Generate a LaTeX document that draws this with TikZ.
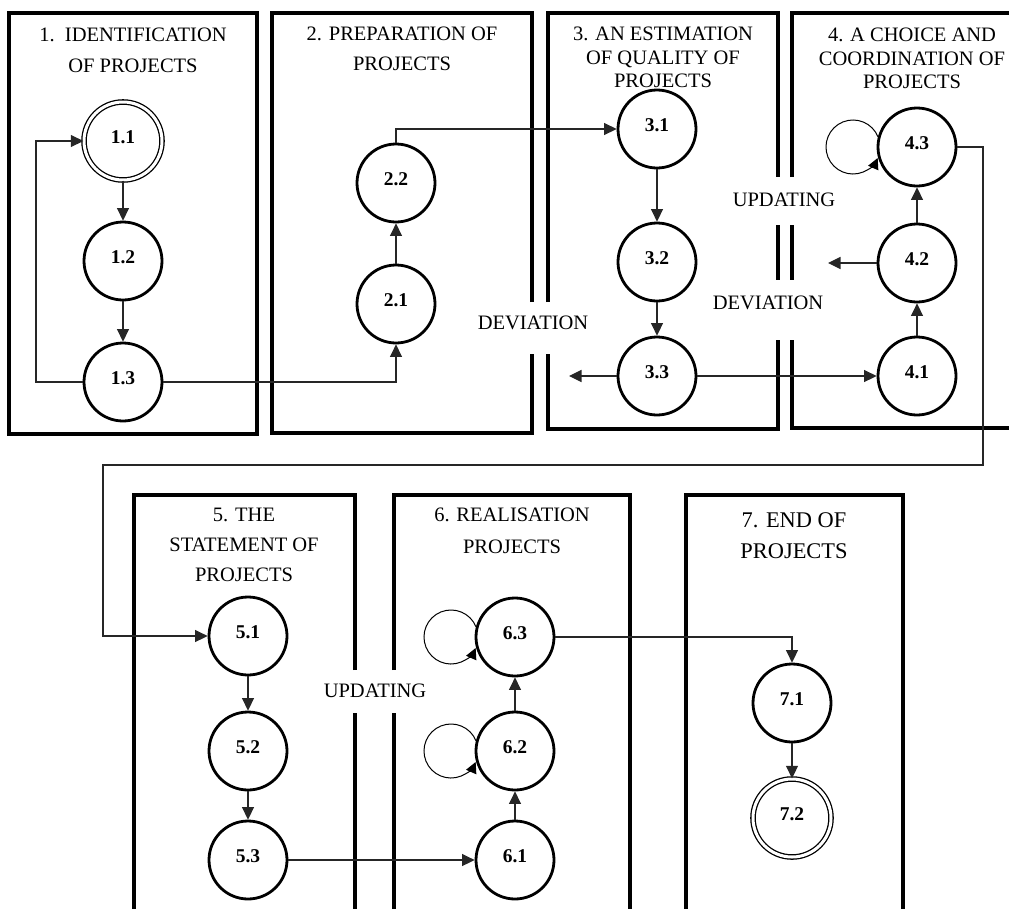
\documentclass[tikz,border=0pt]{standalone}
\usepackage{fontspec}
\setmainfont{Liberation Serif}
\usetikzlibrary{arrows.meta,calc}
\begin{document}
\begin{tikzpicture}[x=1pt,y=-1pt,
  frame/.style={line width=3.8pt, line join=miter},
  state/.style={circle, draw, line width=2.8pt, minimum size=78pt, inner sep=0pt,
    font=\fontsize{19.5}{19.5}\selectfont\bfseries, text height=13pt, text depth=9pt},
  final/.style={state, line width=1.3pt, double, double distance=3pt},
  conn/.style={line width=1.2pt, draw=black!85},
  arr/.style={conn, -{Triangle[length=12.5pt,width=12pt]}},
  ttl/.style={align=center, inner sep=0pt, anchor=north},
  lbl/.style={font=\fontsize{20.5}{24}\selectfont, inner sep=0pt},
  selfloop/.style={line width=1pt, -{Triangle[length=11pt,width=11pt]}}
]
\useasboundingbox (0,0) rectangle (1009,908);
\clip (0,0) rectangle (1009,908);

% frames
\draw[frame] (9,13) rectangle (257,434);
\draw[frame] (532,302) -- (532,13) -- (272,13) -- (272,433) -- (532,433) -- (532,354);
\draw[frame] (548,302) -- (548,13) -- (778,13) -- (778,177);
\draw[frame] (778,225) -- (778,280);
\draw[frame] (778,340) -- (778,429) -- (548,429) -- (548,354);
\draw[frame] (792,177) -- (792,13) -- (1020,13);
\draw[frame] (792,225) -- (792,280);
\draw[frame] (792,340) -- (792,428) -- (1020,428);
\draw[frame] (355,670) -- (355,495) -- (134,495) -- (134,920);
\draw[frame] (355,713) -- (355,920);
\draw[frame] (394,670) -- (394,495) -- (630,495) -- (630,920);
\draw[frame] (394,713) -- (394,920);
\draw[frame] (686,920) -- (686,495) -- (903,495) -- (903,920);

% titles
\node[ttl, font=\fontsize{20.5}{30.5}\selectfont] (t1) at (133,28) {1.\ \ IDENTIFICATION\\OF PROJECTS};
\node[ttl, font=\fontsize{20.5}{30}\selectfont] (t2) at (402,27) {2. PREPARATION OF\\PROJECTS};
\node[ttl, font=\fontsize{20.5}{23.5}\selectfont] (t3) at (663,27) {3. AN ESTIMATION\\OF QUALITY OF\\PROJECTS};
\node[ttl, font=\fontsize{20.5}{23.5}\selectfont] (t4) at (912,28) {4. A CHOICE AND\\COORDINATION OF\\PROJECTS};
\node[ttl, font=\fontsize{20.5}{30}\selectfont] (t5) at (244,508) {5. THE\\STATEMENT OF\\PROJECTS};
\node[ttl, font=\fontsize{20.5}{32}\selectfont] (t6) at (512,508) {6. REALISATION\\PROJECTS};
\node[ttl, font=\fontsize{22.4}{31.5}\selectfont] (t7) at (794,512) {7. END OF\\PROJECTS};

% side labels
\node[lbl] (dev1) at (533,323) {DEVIATION};
\node[lbl] (dev2) at (768,303) {DEVIATION};
\node[lbl] (upd1) at (784,200) {UPDATING};
\node[lbl] (upd2) at (375,691) {UPDATING};

% states
\node[final] (n11) at (123,141) {1.1};
\node[state] (n12) at (123,261) {1.2};
\node[state] (n13) at (123,382) {1.3};
\node[state] (n21) at (396,304) {2.1};
\node[state] (n22) at (396,183) {2.2};
\node[state] (n31) at (657,129) {3.1};
\node[state] (n32) at (657,262) {3.2};
\node[state] (n33) at (657,376) {3.3};
\node[state] (n41) at (917,376) {4.1};
\node[state] (n42) at (917,263) {4.2};
\node[state] (n43) at (917,147) {4.3};
\node[state] (n51) at (248,636) {5.1};
\node[state] (n52) at (248,751) {5.2};
\node[state] (n53) at (248,860) {5.3};
\node[state] (n61) at (515,860) {6.1};
\node[state] (n62) at (515,751) {6.2};
\node[state] (n63) at (515,637) {6.3};
\node[state] (n71) at (792,703) {7.1};
\node[final] (n72) at (792,818) {7.2};

% free ends and bends
\coordinate (devEnd) at (569,376);
\coordinate (updEnd) at (828,263);
\coordinate (loopL) at (36,0);
\coordinate (bendA) at (983,465);
\coordinate (bendB) at (103,465);

% connectors
\draw[arr] (n11) -- (n12);
\draw[arr] (n12) -- (n13);
\draw[arr] (n13.west) -| (loopL |- n13.west) |- (n11.west);
\draw[arr] (n13.east) -| (n21.south);
\draw[arr] (n21) -- (n22);
\draw[arr] (n22.north) |- (n31.west);
\draw[arr] (n31) -- (n32);
\draw[arr] (n32) -- (n33);
\draw[arr] (n33.west) -- (devEnd);
\draw[arr] (n33.east) -- (n41.west);
\draw[arr] (n41) -- (n42);
\draw[arr] (n42) -- (n43);
\draw[arr] (n42.west) -- (updEnd);
\draw[arr] (n43.east) -| (bendA) -- (bendB) |- (n51.west);
\draw[arr] (n51) -- (n52);
\draw[arr] (n52) -- (n53);
\draw[arr] (n53.east) -- (n61.west);
\draw[arr] (n61) -- (n62);
\draw[arr] (n62) -- (n63);
\draw[arr] (n63.east) -| (n71.north);
\draw[arr] (n71) -- (n72);

% self loops
\draw[selfloop] ($(n43.center)+(-64,0)+(22:27pt)$) arc[start angle=22, end angle=336, radius=27pt];
\draw[selfloop] ($(n63.center)+(-64,0)+(22:27pt)$) arc[start angle=22, end angle=336, radius=27pt];
\draw[selfloop] ($(n62.center)+(-64,0)+(22:27pt)$) arc[start angle=22, end angle=336, radius=27pt];
\end{tikzpicture}
\end{document}
